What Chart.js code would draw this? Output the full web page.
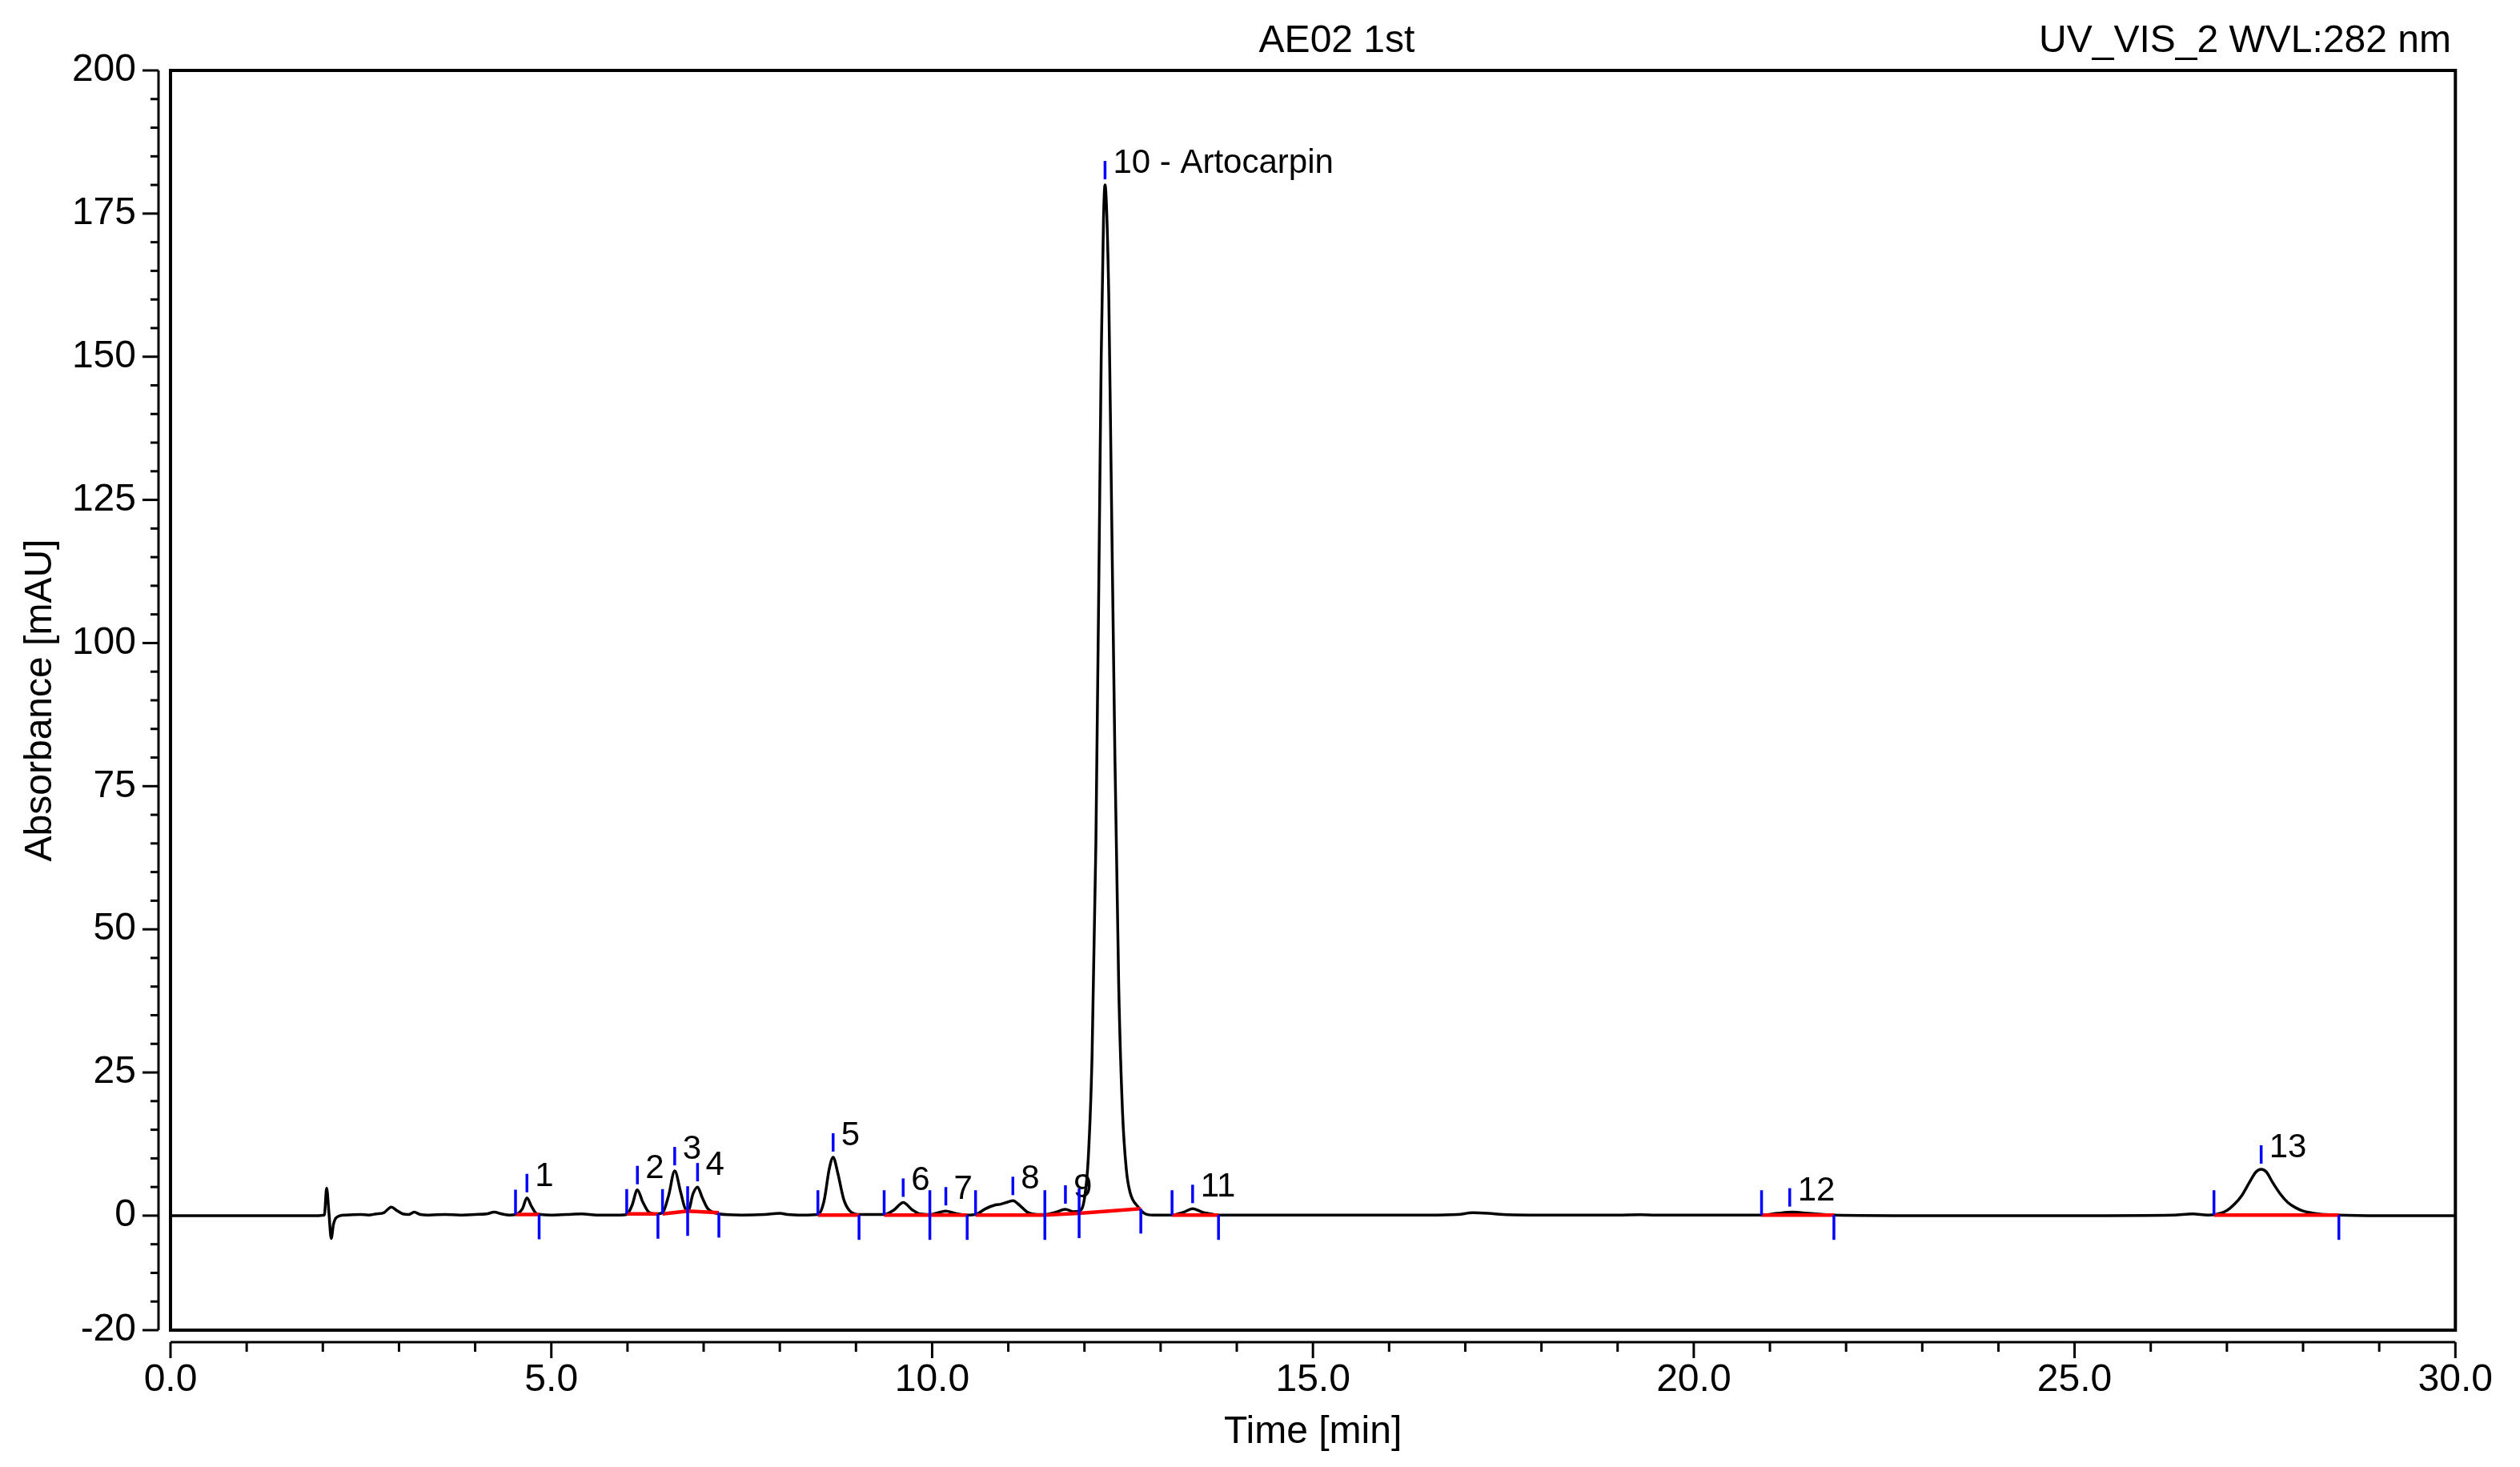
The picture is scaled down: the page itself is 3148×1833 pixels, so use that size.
<!DOCTYPE html>
<html>
<head>
<meta charset="utf-8">
<script src="https://cdn.jsdelivr.net/npm/chart.js@4/dist/chart.umd.min.js"></script>
<style>
  body { margin: 0; background: #fff; }
  canvas { display: block; }
</style>
</head>
<body>
<canvas id="chrom" width="3148" height="1833"></canvas>
<script>
// trace (time in min, absorbance in mAU)
const timeMin = [0.0, 1.0, 1.9, 2.02, 2.05, 2.08, 2.11, 2.14, 2.18, 2.3, 2.5, 2.6, 2.7, 2.8, 2.9, 2.97, 3.05, 3.13, 3.2, 3.28,
  3.4, 3.6, 3.8, 4.0, 4.15, 4.25, 4.35, 4.45, 4.53, 4.62, 4.68, 4.74, 4.8, 4.86, 5.0, 5.2, 5.4, 5.6, 5.9, 5.99,
  6.06, 6.13, 6.2, 6.28, 6.36, 6.46, 6.54, 6.62, 6.7, 6.76, 6.8, 6.86, 6.92, 6.98, 7.05, 7.12, 7.2, 7.5, 7.8, 8.0,
  8.1, 8.3, 8.5, 8.58, 8.65, 8.7, 8.76, 8.84, 8.92, 9.04, 9.37, 9.5, 9.62, 9.74, 9.84, 9.97, 10.1, 10.18, 10.3, 10.46,
  10.57, 10.7, 10.84, 10.9, 11.0, 11.06, 11.15, 11.25, 11.38, 11.48, 11.62, 11.75, 11.85, 11.93, 12.0, 12.05, 12.1, 12.15, 12.2, 12.22,
  12.25, 12.27, 12.29, 12.32, 12.35, 12.4, 12.45, 12.5, 12.55, 12.6, 12.7, 12.8, 12.9, 13.15, 13.3, 13.42, 13.55, 13.7, 13.76, 14.5,
  15.5, 16.5, 16.9, 17.1, 17.3, 17.5, 18.0, 19.0, 19.3, 19.5, 19.8, 20.9, 21.1, 21.3, 21.5, 21.84, 23.0, 25.0, 26.3, 26.55,
  26.75, 26.85, 27.0, 27.1, 27.2, 27.3, 27.38, 27.45, 27.52, 27.6, 27.7, 27.8, 27.9, 28.0, 28.2, 28.47, 29.0, 30.0];
const absMAU = [0, 0, 0, 0.1, 4.8, 0.5, -4.0, -1.5, -0.3, 0.1, 0.2, 0.1, 0.3, 0.5, 1.5, 0.9, 0.3, 0.2, 0.6, 0.2,
  0.1, 0.2, 0.1, 0.2, 0.3, 0.6, 0.3, 0.1, 0.2, 1.2, 3.1, 1.6, 0.4, 0.2, 0.1, 0.2, 0.3, 0.1, 0.1, 0.2,
  1.8, 4.5, 2.4, 0.6, 0.3, 0.5, 3.5, 7.8, 4.0, 1.2, 1.0, 3.8, 5.0, 3.2, 1.3, 0.6, 0.3, 0.1, 0.2, 0.4,
  0.2, 0.1, 0.2, 2.5, 8.2, 10.2, 7.5, 2.8, 0.8, 0.2, 0.2, 1.0, 2.3, 1.0, 0.3, 0.2, 0.6, 0.8, 0.4, 0.1,
  0.2, 1.2, 1.9, 2.0, 2.4, 2.6, 1.8, 0.6, 0.2, 0.2, 0.6, 1.1, 0.7, 0.8, 3, 10, 28, 65, 125, 150,
  174, 180, 176, 160, 130, 80, 40, 18, 8, 4, 1.6, 0.3, 0.1, 0.1, 0.6, 1.2, 0.6, 0.2, 0.1, 0.1,
  0.1, 0.1, 0.2, 0.5, 0.4, 0.2, 0.1, 0.1, 0.15, 0.1, 0.1, 0.1, 0.4, 0.6, 0.4, 0.1, 0.0, 0.0, 0.1, 0.3,
  0.1, 0.2, 0.9, 2.0, 3.6, 5.9, 7.6, 8.1, 7.6, 5.8, 3.8, 2.3, 1.4, 0.8, 0.3, 0.1, 0.0, 0.0];

// integrated peaks
const peakNames = ['1', '2', '3', '4', '5', '6', '7', '8', '9', '10 - Artocarpin', '11', '12', '13'];
const peakApex = [4.68, 6.13, 6.62, 6.92, 8.70, 9.62, 10.18, 11.06, 11.75, 12.27, 13.42, 21.26, 27.45];
const peakHeight = [3.1, 4.5, 7.8, 5.0, 10.2, 2.3, 0.8, 2.6, 1.1, 180, 1.2, 0.6, 8.1];
const peakStart = [4.53, 5.99, 6.46, 6.79, 8.50, 9.37, 9.97, 10.57, 11.48, 11.93, 13.15, 20.89, 26.83];
const peakEnd = [4.84, 6.40, 6.79, 7.20, 9.04, 9.97, 10.46, 11.48, 11.93, 12.74, 13.76, 21.84, 28.47];
const baseStart = [0.2, 0.3, 0.3, 0.8, 0.1, 0.1, 0.1, 0.1, 0.1, 0.4, 0.1, 0.1, 0.1];
const baseEnd = [0.2, 0.3, 0.8, 0.5, 0.1, 0.1, 0.1, 0.1, 0.4, 1.2, 0.1, 0.1, 0.1];

const yTicks = [-20, 0, 25, 50, 75, 100, 125, 150, 175, 200];
const xTicks = [0, 5, 10, 15, 20, 25, 30];

const FONT = 'Liberation Sans, Arial, sans-serif';
Chart.defaults.color = '#000';
Chart.defaults.font.family = FONT;

const trace = timeMin.map((t, i) => ({ x: t, y: absMAU[i] }));

const baselines = peakNames.map((n, i) => ({
  data: [{ x: peakStart[i], y: baseStart[i] }, { x: peakEnd[i], y: baseEnd[i] }],
  borderColor: '#ff0000',
  borderWidth: 4.5,
  pointRadius: 0,
  order: 0
}));

function line(ctx, x1, y1, x2, y2) {
  ctx.beginPath();
  ctx.moveTo(x1, y1);
  ctx.lineTo(x2, y2);
  ctx.stroke();
}

const chromPlugin = {
  id: 'chrom',
  afterDatasetsDraw(chart) {
    const { ctx, scales: { x, y } } = chart;
    ctx.save();
    ctx.strokeStyle = '#0000ff';
    ctx.lineWidth = 3.5;
    ctx.fillStyle = '#000';
    ctx.font = '42px ' + FONT;
    ctx.textBaseline = 'alphabetic';
    peakNames.forEach((name, i) => {
      const xs = x.getPixelForValue(peakStart[i]);
      const ys = y.getPixelForValue(baseStart[i]);
      line(ctx, xs, ys, xs, ys - 31);
      const xe = x.getPixelForValue(peakEnd[i]);
      const ye = y.getPixelForValue(baseEnd[i]);
      line(ctx, xe, ye, xe, ye + 31);
      const xa = x.getPixelForValue(peakApex[i]);
      const ya = y.getPixelForValue(peakHeight[i]);
      line(ctx, xa, ya - 7, xa, ya - 30);
      ctx.fillText(name, xa + 10, ya - 15);
    });
    ctx.restore();
  },
  afterDraw(chart) {
    const { ctx, chartArea: a, scales: { x, y } } = chart;
    ctx.save();
    ctx.strokeStyle = '#000';
    // plot frame
    ctx.lineWidth = 4;
    ctx.strokeRect(a.left, a.top, a.right - a.left, a.bottom - a.top);
    // detached y axis
    ctx.lineWidth = 3;
    const ax = a.left - 15;
    line(ctx, ax, a.top, ax, a.bottom);
    for (let v = -20; v <= 200; v += 5) {
      const py = y.getPixelForValue(v);
      const len = yTicks.includes(v) ? 20 : 10;
      line(ctx, ax, py, ax - len, py);
    }
    // detached x axis
    const ay = a.bottom + 15;
    line(ctx, a.left, ay, a.right, ay);
    for (let v = 0; v <= 30; v += 1) {
      const px = x.getPixelForValue(v);
      const len = xTicks.includes(v) ? 20 : 12;
      line(ctx, px, ay, px, ay + len);
    }
    // header
    ctx.fillStyle = '#000';
    ctx.font = '48px ' + FONT;
    ctx.textBaseline = 'alphabetic';
    ctx.textAlign = 'center';
    ctx.fillText('AE02 1st', 1670, 65);
    ctx.textAlign = 'right';
    ctx.fillText('UV_VIS_2 WVL:282 nm', 3062, 65);
    ctx.restore();
  }
};

const ctx = document.getElementById('chrom').getContext('2d');
new Chart(ctx, {
  type: 'line',
  data: {
    datasets: [
      ...baselines,
      {
        data: trace,
        borderColor: '#000',
        borderWidth: 3.5,
        pointRadius: 0,
        cubicInterpolationMode: 'monotone',
        order: 1
      }
    ]
  },
  options: {
    responsive: false,
    devicePixelRatio: 1,
    animation: false,
    layout: { padding: { top: 88, right: 76, left: 0, bottom: 0 } },
    plugins: { legend: { display: false }, tooltip: { enabled: false } },
    scales: {
      x: {
        type: 'linear',
        min: 0,
        max: 30,
        afterBuildTicks: s => { s.ticks = xTicks.map(v => ({ value: v })); },
        afterFit: s => { s.height = 171; },
        grid: { display: false, drawTicks: false },
        border: { display: false },
        ticks: { font: { size: 48 }, padding: 34, maxRotation: 0, callback: v => v.toFixed(1) },
        title: { display: true, text: 'Time [min]', font: { size: 48 }, padding: { top: 0, bottom: 14 } }
      },
      y: {
        type: 'linear',
        min: -20,
        max: 200,
        afterBuildTicks: s => { s.ticks = yTicks.map(v => ({ value: v })); },
        afterFit: s => { s.width = 213; },
        grid: { display: false, drawTicks: false },
        border: { display: false },
        ticks: { font: { size: 48 }, padding: 43 },
        title: { display: true, text: 'Absorbance [mAU]', font: { size: 48 }, padding: { top: 22, bottom: 0 } }
      }
    }
  },
  plugins: [chromPlugin]
});
</script>
</body>
</html>
